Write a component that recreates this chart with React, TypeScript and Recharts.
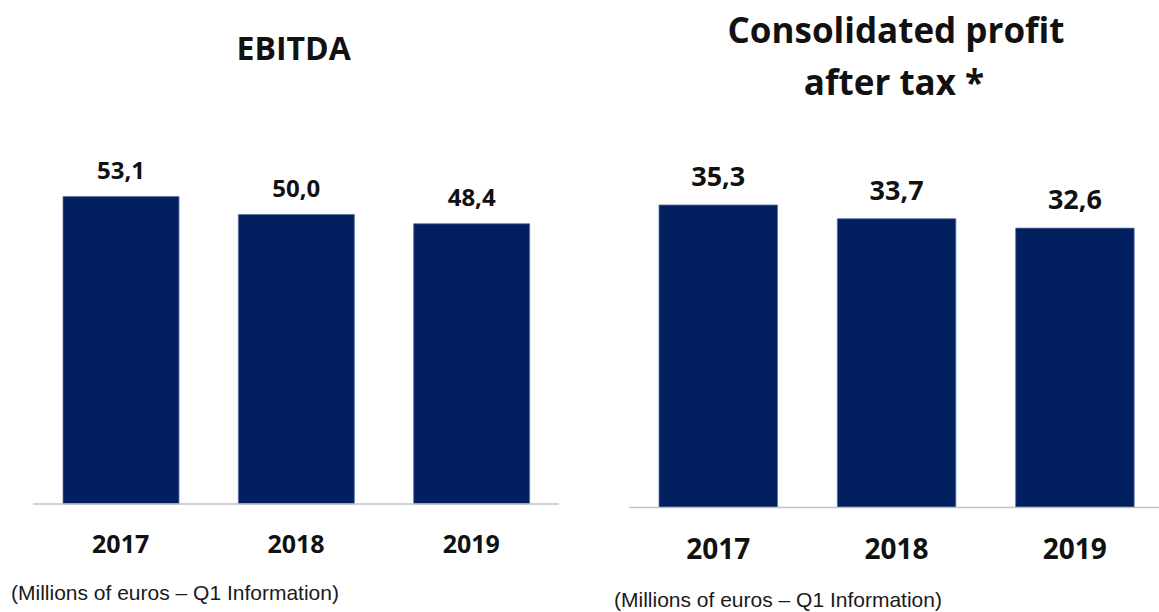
import { BarChart, Bar, XAxis, YAxis, LabelList } from "recharts";

const years = ["2017", "2018", "2019"];
const ebitdaValues = [53.1, 50.0, 48.4];
const profitValues = [35.3, 33.7, 32.6];

const ebitdaData = years.map((year, i) => ({ year, value: ebitdaValues[i] }));
const profitData = years.map((year, i) => ({ year, value: profitValues[i] }));

const BAR_COLOR = "#022060";
const BAR_EDGE = "#5d72a0";
const AXIS_COLOR = "#c3c3c3";
const BOLD_FONT = "'Open Sans', 'Noto Sans', sans-serif";
const NOTE_FONT = "'Liberation Sans', Arial, sans-serif";

const fmt = (v: number) => v.toFixed(1).replace(".", ",");

function yearTick(fontSize: number, dy: number) {
  return (props: any) => (
    <text
      x={props.x}
      y={props.y + dy}
      textAnchor="middle"
      fontFamily={BOLD_FONT}
      fontWeight={700}
      fontSize={fontSize}
      fill="#111"
    >
      {props.payload.value}
    </text>
  );
}

function valueLabel(fontSize: number, gap: number) {
  return (props: any) => (
    <text
      x={props.x + props.width / 2}
      y={props.y - gap}
      textAnchor="middle"
      fontFamily={BOLD_FONT}
      fontWeight={700}
      fontSize={fontSize}
      fill="#111"
    >
      {fmt(props.value)}
    </text>
  );
}

function Title({ text, cx, cy, size }: { text: string; cx: number; cy: number; size: number }) {
  return (
    <div
      style={{
        position: "absolute",
        left: cx - 250,
        width: 500,
        top: cy - size * 0.53,
        height: size,
        lineHeight: `${size}px`,
        textAlign: "center",
        fontFamily: BOLD_FONT,
        fontWeight: 700,
        fontSize: size,
        color: "#111",
        whiteSpace: "nowrap",
      }}
    >
      {text}
    </div>
  );
}

function Note({ left, cy }: { left: number; cy: number }) {
  return (
    <div
      style={{
        position: "absolute",
        left,
        top: cy - 21 * 0.49,
        height: 21,
        lineHeight: "21px",
        fontFamily: NOTE_FONT,
        fontSize: 21,
        color: "#1a1a1a",
        whiteSpace: "nowrap",
      }}
    >
      (Millions of euros – Q1 Information)
    </div>
  );
}

export default function App() {
  return (
    <div
      style={{
        position: "absolute",
        left: 0,
        top: 0,
        width: 1159,
        height: 612,
        overflow: "hidden",
        background: "#fff",
      }}
    >
      <div style={{ position: "absolute", left: 0, top: 0 }}>
        <BarChart
          width={580}
          height={612}
          data={ebitdaData}
          margin={{ top: 156.6, right: 21, bottom: 78, left: 33 }}
          barSize={116}
        >
          <XAxis
            dataKey="year"
            height={30}
            tickLine={false}
            tickSize={0}
            tickMargin={0}
            axisLine={{ stroke: AXIS_COLOR, strokeWidth: 1.5 }}
            tick={yearTick(25, 49)}
            interval={0}
          />
          <YAxis hide domain={[0, 60]} />
          <Bar dataKey="value" fill={BAR_COLOR} stroke={BAR_EDGE} strokeWidth={0.8} isAnimationActive={false}>
            <LabelList dataKey="value" content={valueLabel(24, 17.6)} />
          </Bar>
        </BarChart>
      </div>

      <div style={{ position: "absolute", left: 600, top: 0 }}>
        <BarChart
          width={580}
          height={612}
          data={profitData}
          margin={{ top: 164.7, right: 16, bottom: 74.5, left: 29 }}
          barSize={118.5}
        >
          <XAxis
            dataKey="year"
            height={30}
            tickLine={false}
            tickSize={0}
            tickMargin={0}
            axisLine={{ stroke: AXIS_COLOR, strokeWidth: 1.5 }}
            tick={yearTick(28, 51.5)}
            interval={0}
          />
          <YAxis hide domain={[0, 40]} />
          <Bar dataKey="value" fill={BAR_COLOR} stroke={BAR_EDGE} strokeWidth={0.8} isAnimationActive={false}>
            <LabelList dataKey="value" content={valueLabel(27, 18.7)} />
          </Bar>
        </BarChart>
      </div>

      <Title text="EBITDA" cx={293.7} cy={49} size={32} />
      <Title text="Consolidated profit" cx={896} cy={30.7} size={35} />
      <Title text="after tax *" cx={894} cy={82.8} size={35} />

      <Note left={11} cy={592} />
      <Note left={614} cy={599.5} />
    </div>
  );
}
